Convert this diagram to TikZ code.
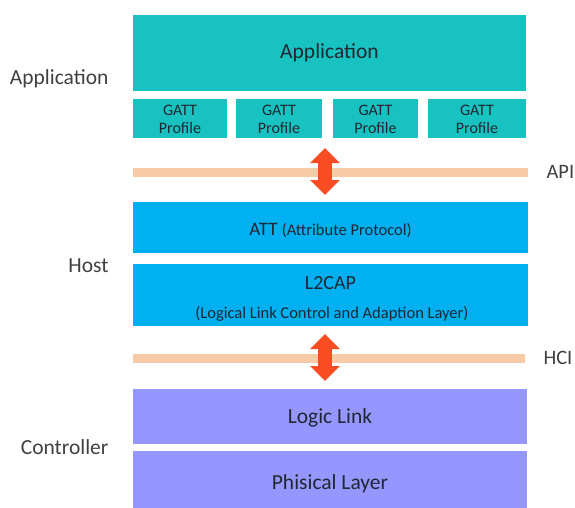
\documentclass[tikz,border=0pt]{standalone}
\usepackage{fontspec}
\setmainfont{Carlito}
\usetikzlibrary{arrows.meta}
\definecolor{appteal}{RGB}{24,194,192}
\definecolor{hostblue}{RGB}{0,176,240}
\definecolor{ctrlpurple}{RGB}{150,150,255}
\definecolor{busorange}{RGB}{248,202,166}
\definecolor{arrowred}{RGB}{250,76,34}
\definecolor{labelgray}{RGB}{64,64,64}
\definecolor{boxtext}{RGB}{30,40,50}
\tikzset{
  layer/.style={draw=none, inner sep=0pt, text=boxtext},
  bigtext/.style={font=\fontsize{21.5}{25}\selectfont},
  sidelabel/.style={anchor=east, text=labelgray, font=\fontsize{21.5}{25}\selectfont},
  busline/.style={line width=9pt, draw=busorange},
  buslabel/.style={anchor=west, text=labelgray, font=\fontsize{20.5}{24}\selectfont},
  flow/.style={line width=14pt, draw=arrowred,
    {Triangle[width=29pt,length=15pt]}-{Triangle[width=29pt,length=15pt]}},
}
\begin{document}
\begin{tikzpicture}[x=1pt,y=-1pt]
\useasboundingbox (0,0) rectangle (575,508);

% application level
\fill[appteal] (133,15) rectangle (526,91);
\node[layer, bigtext] (app) at (329.5,53) {Application};
\foreach \i/\l/\r in {1/133/227, 2/236/322, 3/333/418, 4/428/526}{
  \fill[appteal] (\l,99) rectangle (\r,138);
  \node[layer, align=center, font=\fontsize{16}{18}\selectfont] (gatt\i) at ({(\l+\r)/2},119) {GATT\\Profile};
}

% API bus
\coordinate (apiL) at (133,172);
\coordinate (apiR) at (528,172);
\draw[busline] (apiL) -- (apiR);
\node[buslabel] (api) at (543,172) {API};
\coordinate (apiT) at (325,148);
\coordinate (apiB) at (325,195);
\draw[flow] (apiT) -- (apiB);

% host level
\fill[hostblue] (133,202) rectangle (528,253);
\node[layer] (att) at (330.5,231) {\fontsize{19}{22}\selectfont ATT \fontsize{16.5}{19}\selectfont(Attribute Protocol)};
\fill[hostblue] (133,264) rectangle (528,326);
\node[layer, font=\fontsize{20}{24}\selectfont] (l2cap) at (330.5,283) {L2CAP};
\node[layer, font=\fontsize{16.5}{19}\selectfont] (l2capsub) at (332,314) {(Logical Link Control and Adaption Layer)};

% HCI bus
\coordinate (hciL) at (133,358);
\coordinate (hciR) at (525,358);
\draw[busline] (hciL) -- (hciR);
\node[buslabel] (hci) at (540,358) {HCI};
\coordinate (hciT) at (325,334);
\coordinate (hciB) at (325,381);
\draw[flow] (hciT) -- (hciB);

% controller level
\fill[ctrlpurple] (133,389) rectangle (527,444);
\node[layer, bigtext] (ll) at (330,418) {Logic Link};
\fill[ctrlpurple] (133,451) rectangle (527,508);
\node[layer, bigtext] (phy) at (330,484) {Phisical Layer};

% side labels
\node[sidelabel] (lapp) at (112,79) {Application};
\node[sidelabel] (lhost) at (112,266) {Host};
\node[sidelabel] (lctrl) at (112,447) {Controller};
\end{tikzpicture}
\end{document}
